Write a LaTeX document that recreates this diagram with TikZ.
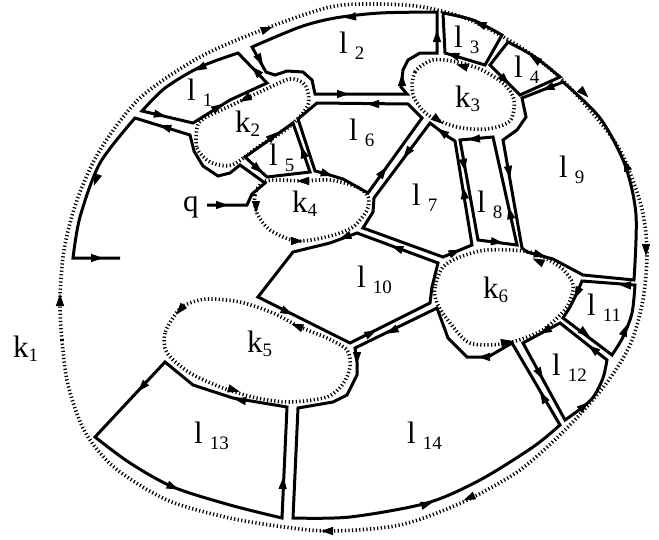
\documentclass[tikz,border=0pt]{standalone}
\usepackage{fontspec}
\setmainfont{Liberation Serif}
\newcommand\arr[2]{\fill[shift={(#1)},rotate=#2] (6pt,0) -- (-6pt,4.2pt) -- (-6pt,-4.2pt) -- cycle;}
\newcommand\lsub[1]{\hspace{7pt}\raisebox{-6pt}{\fontsize{19}{19}\selectfont #1}}
\newcommand\ksub[1]{\raisebox{-4pt}{\fontsize{19}{19}\selectfont #1}}

\begin{document}
\begin{tikzpicture}[x=1pt,y=-1pt]
		\tikzstyle{face}=[line width=3pt]
		\tikzstyle{hole}=[line width=3.6pt,dash pattern=on 1.2pt off 2.4pt]
		\tikzstyle{lab}=[anchor=base west,inner sep=0pt,font=\fontsize{31}{31}\selectfont]
		\useasboundingbox (0,0) rectangle (659,539);

    % Outer contour k1
		\draw[hole] plot[smooth cycle] coordinates {(60,300) (62,340) (68,385) (85,432) (115,468) (167,500) (225,517) (277,526) (330,531) (400,525) (463,502) (520,470) (567,428) (605,385) (630,345) (643,300) (647,250) (641,205) (620,150) (590,110) (555,73) (517,45) (470,20) (423,7) (375,4) (330,7) (267,28) (200,57) (140,98) (100,150) (77,200) (64,250)};
		\arr{267,29}{20}
		\arr{584,93}{315}
		\arr{646,250}{270}
		\arr{469,498}{205}
		\arr{327,531}{180}
		\arr{60,300}{90}

    % Inner contours k2 ... k6
		\draw[hole] plot[smooth cycle] coordinates {(197,128) (197,148) (210,162) (232,165) (258,147) (288,128) (308,105) (305,85) (290,79) (262,91) (230,106) (203,119)};
		\arr{245,99}{208}
		\arr{273,136}{40}

		\draw[hole] plot[smooth cycle] coordinates {(433,60) (415,72) (413,95) (428,115) (457,127) (487,129) (510,121) (514,100) (504,84) (482,70) (457,62)};
		\arr{462,66}{165}
		\arr{438,120}{323}

		\draw[hole] plot[smooth cycle] coordinates {(263,182) (255,195) (257,213) (270,230) (297,241) (330,236) (353,227) (367,210) (368,197) (357,187) (330,180) (303,181) (280,180)};
		\arr{303,181}{180}
		\arr{256,207}{270}
		\arr{297,241}{0}

		\draw[hole] plot[smooth cycle] coordinates {(177,312) (165,333) (167,353) (190,373) (223,388) (257,398) (290,402) (327,397) (343,384) (350,367) (347,350) (327,338) (300,327) (273,313) (240,302) (207,299) (187,304)};
		\arr{180,310}{230}
		\arr{297,326}{158}
		\arr{234,390}{344}

		\draw[hole] plot[smooth cycle] coordinates {(443,267) (435,287) (437,303) (450,323) (470,343) (503,344) (530,336) (547,327) (567,307) (573,285) (560,267) (530,252) (487,250) (460,257)};
		\arr{538,261}{155}
		\arr{507,342}{10}

    % Cut from q
		\draw[face] (207,205) -- (247,205) -- (252,194) -- (265,183) -- (240,165) -- (230,173) -- (218,176) -- (203,166) -- (194,151) -- (190,135) -- (135,118) -- plot[smooth] coordinates {(135,118) (100,163) (80,217) (73,258)} -- (120,258);
		\arr{222,205}{0}
		\arr{165,127}{163}
		\arr{96,180}{250}
		\arr{97,258}{0}

    % Faces l1 ... l14
		\draw[face] (142,111) -- (193,123) -- (230,100) -- (267,83) -- (238,53) -- plot[smooth] coordinates {(238,53) (200,67) (165,88) (142,111)} -- cycle;
		\arr{200,68}{207}
		\arr{160,115}{347}
		\arr{218,107}{32}
		\arr{256,71}{134}

		\draw[face] plot[smooth] coordinates {(252,47) (300,27) (335,18) (380,13) (437,12)} -- (437,53) -- (420,53) -- (408,60) -- (403,70) -- (401,87) -- (407,94) -- (315,94) -- (312,80) -- (303,72) -- (287,71) -- (275,75) -- (266,72) -- cycle;
		\arr{350,17}{186}
		\arr{437,36}{90}
		\arr{402,80}{90}
		\arr{343,94}{0}
		\arr{260,60}{299}

		\draw[face] plot[smooth] coordinates {(443,13) (473,20) (502,35)} -- (485,65) -- (445,53) -- cycle;
		\arr{480,24}{160}
		\arr{453,55}{163}

		\draw[face] (508,42) -- plot[smooth] coordinates {(508,42) (535,57) (560,77)} -- (520,95) -- (490,65) -- cycle;
		\arr{535,59}{146}
		\arr{505,80}{315}

		\draw[face] (245,157) -- (267,177) -- (310,172) -- (293,123) -- cycle;
		\arr{258,169}{318}
		\arr{303,152}{109}

		\draw[face] (298,119) -- (317,103) -- (408,104) -- (422,118) -- (368,193) -- (352,184) -- (343,179) -- (323,173) -- (315,171) -- cycle;
		\arr{373,104}{180}
		\arr{327,174}{344}
		\arr{383,172}{54}

		\draw[face] (430,123) -- (447,136) -- (455,141) -- (472,245) -- (443,257) -- (363,228) -- (373,212) -- (374,198) -- cycle;
		\arr{442,132}{144}
		\arr{407,153}{233}
		\arr{464,193}{99}
		\arr{455,252}{22}

		\draw[face] (460,140) -- (493,137) -- (517,245) -- (478,240) -- cycle;
		\arr{474,139}{185}
		\arr{464,165}{280}
		\arr{497,242}{353}
		\arr{510,213}{102}

		\draw[face] (522,98) -- (563,82) -- plot[smooth] coordinates {(563,82) (600,118) (625,165) (636,215) (634,280)} -- (583,275) -- (553,259) -- (527,252) -- (522,248) -- (503,140) -- (517,130) -- (526,117) -- cycle;
		\arr{548,88}{201}
		\arr{626,165}{110}
		\arr{509,172}{280}
		\arr{540,255}{345}

		\draw[face] (293,252) -- (258,297) -- (350,343) -- (430,303) -- (432,287) -- (438,263) -- (357,233) -- (330,243) -- cycle;
		\arr{345,237}{200}
		\arr{397,248}{160}
		\arr{287,312}{333}
		\arr{371,333}{27}

		\draw[face] (582,281) -- (635,285) -- plot[smooth] coordinates {(635,285) (632,313) (623,337) (612,355)} -- (563,318) -- (570,307) -- (577,293) -- cycle;
		\arr{625,285}{176}
		\arr{577,293}{245}
		\arr{585,333}{323}
		\arr{625,330}{69}

		\draw[face] (523,343) -- (560,323) -- (607,360) -- plot[smooth] coordinates {(607,360) (603,378) (594,396) (583,407) (565,420)} -- cycle;
		\arr{545,331}{208}
		\arr{593,349}{142}
		\arr{540,374}{299}
		\arr{584,406}{40}

		\draw[face] (165,362) -- (193,385) -- (233,398) -- (287,407) -- (282,518) -- plot[smooth] coordinates {(282,518) (230,505) (173,487) (130,463) (95,437)} -- cycle;
		\arr{142,387}{227}
		\arr{173,487}{337}
		\arr{283,483}{87}
		\arr{240,400}{170}

		\draw[face] (298,408) -- (333,402) -- (347,395) -- (357,375) -- (357,362) -- (355,348) -- (437,308) -- (448,338) -- (467,357) -- (488,357) -- (512,343) -- (560,425) -- plot[smooth] coordinates {(560,425) (533,447) (480,480) (427,503) (350,517) (293,518)} -- cycle;
		\arr{357,358}{270}
		\arr{392,331}{206}
		\arr{484,357}{180}
		\arr{543,397}{120}
		\arr{427,504}{17}

    % Labels
		\node[lab] (lab q) at (183,211) {q};
		\node[lab] (lab k1) at (13,357) {k\ksub{1}};
		\node[lab] (lab k2) at (235,132) {k\ksub{2}};
		\node[lab] (lab k3) at (455,107) {k\ksub{3}};
		\node[lab] (lab k4) at (292,212) {k\ksub{4}};
		\node[lab] (lab k5) at (247,352) {k\ksub{5}};
		\node[lab] (lab k6) at (483,298) {k\ksub{6}};
		\node[lab] (lab l1) at (187,100) {l\lsub{1}};
		\node[lab] (lab l2) at (339,53) {l\lsub{2}};
		\node[lab] (lab l3) at (454,47) {l\lsub{3}};
		\node[lab] (lab l4) at (514,77) {l\lsub{4}};
		\node[lab] (lab l5) at (269,165) {l\lsub{5}};
		\node[lab] (lab l6) at (349,140) {l\lsub{6}};
		\node[lab] (lab l7) at (412,205) {l\lsub{7}};
		\node[lab] (lab l8) at (477,212) {l\lsub{8}};
		\node[lab] (lab l9) at (559,177) {l\lsub{9}};
		\node[lab] (lab l10) at (357,287) {l\lsub{10}};
		\node[lab] (lab l11) at (587,315) {l\lsub{11}};
		\node[lab] (lab l12) at (552,375) {l\lsub{12}};
		\node[lab] (lab l13) at (194,443) {l\lsub{13}};
		\node[lab] (lab l14) at (407,443) {l\lsub{14}};
  \end{tikzpicture}
\end{document}
